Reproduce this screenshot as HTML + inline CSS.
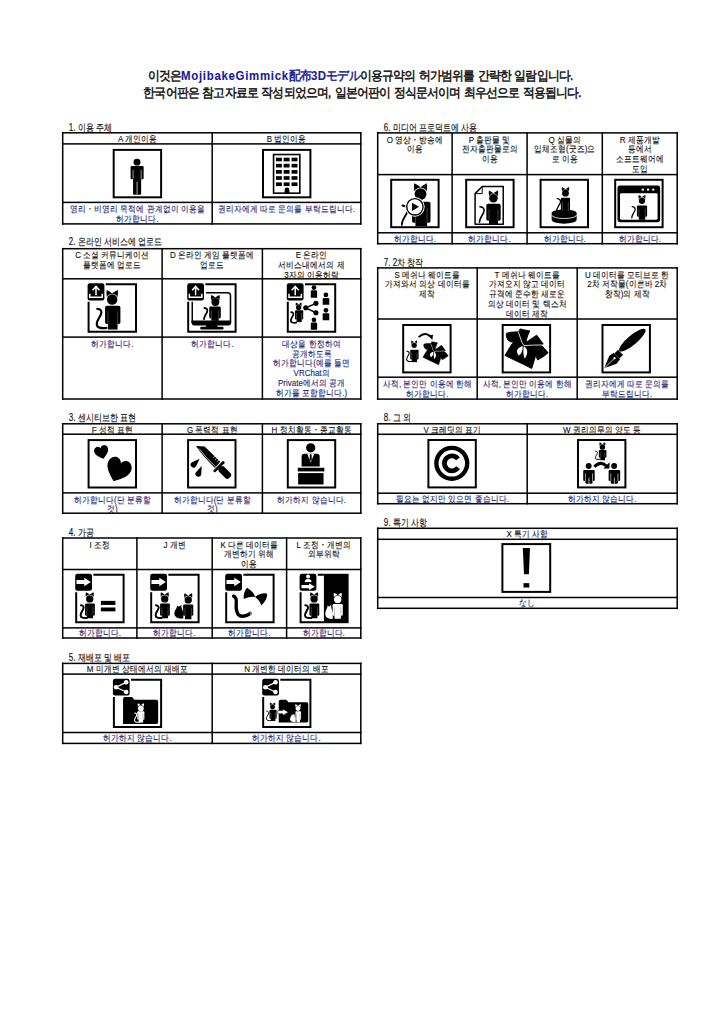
<!DOCTYPE html>
<html><head><meta charset="utf-8"><style>
html,body{margin:0;padding:0;background:#fff;width:725px;height:1024px;overflow:hidden}
body{position:relative;font-family:"Liberation Sans", sans-serif;color:#111}
svg{position:absolute;left:0;top:0}
</style></head><body>
<svg width="725" height="1024" viewBox="0 0 725 1024">
<rect x="61.95" y="132.05" width="299.60" height="1.5" fill="#000"/><rect x="61.95" y="143.15" width="299.60" height="1.5" fill="#000"/><rect x="61.95" y="201.65" width="299.60" height="1.5" fill="#000"/><rect x="61.95" y="223.15" width="299.60" height="1.5" fill="#000"/><rect x="61.95" y="132.05" width="1.5" height="92.60" fill="#000"/><rect x="211.45" y="132.05" width="1.5" height="92.60" fill="#000"/><rect x="360.05" y="132.05" width="1.5" height="92.60" fill="#000"/><g transform="translate(112.70,148.90) scale(0.9880)"><rect x="1" y="1" width="48" height="48" fill="none" stroke="#000" stroke-width="2"/><circle cx="24.6" cy="13.4" r="3.5" fill="#000"/><rect x="18.1" y="17.4" width="13.20" height="13.20" rx="1.25" fill="#000"/><rect x="20.61" y="18.4" width="8.18" height="28.00" rx="1.13" fill="#000"/><path d="M20.61,21.36 V30.60 M28.79,21.36 V30.60" stroke="#fff" stroke-width="0.6"/><path d="M24.70,33.35 V46.40" stroke="#fff" stroke-width="0.7"/></g><g transform="translate(262.00,148.90) scale(0.9880)"><rect x="1" y="1" width="48" height="48" fill="none" stroke="#000" stroke-width="2"/><rect x="11.7" y="5.7" width="26.6" height="39.1" fill="none" stroke="#000" stroke-width="1.6"/><rect x="14.1" y="8.9" width="6.0" height="3.7" fill="#000"/><rect x="14.1" y="15.1" width="6.0" height="3.7" fill="#000"/><rect x="14.1" y="21.4" width="6.0" height="3.7" fill="#000"/><rect x="14.1" y="27.6" width="6.0" height="3.7" fill="#000"/><rect x="14.1" y="33.9" width="6.0" height="3.7" fill="#000"/><rect x="21.9" y="8.9" width="6.0" height="3.7" fill="#000"/><rect x="21.9" y="15.1" width="6.0" height="3.7" fill="#000"/><rect x="21.9" y="21.4" width="6.0" height="3.7" fill="#000"/><rect x="21.9" y="27.6" width="6.0" height="3.7" fill="#000"/><rect x="21.9" y="33.9" width="6.0" height="3.7" fill="#000"/><rect x="29.9" y="8.9" width="6.0" height="3.7" fill="#000"/><rect x="29.9" y="15.1" width="6.0" height="3.7" fill="#000"/><rect x="29.9" y="21.4" width="6.0" height="3.7" fill="#000"/><rect x="29.9" y="27.6" width="6.0" height="3.7" fill="#000"/><rect x="29.9" y="33.9" width="6.0" height="3.7" fill="#000"/><path d="M22.9,45 V41.5 A2.4,2.4 0 0 1 27.7,41.5 V45 Z" fill="#000"/></g><rect x="61.95" y="247.95" width="299.60" height="1.5" fill="#000"/><rect x="61.95" y="278.05" width="299.60" height="1.5" fill="#000"/><rect x="61.95" y="336.35" width="299.60" height="1.5" fill="#000"/><rect x="61.95" y="398.25" width="299.60" height="1.5" fill="#000"/><rect x="61.95" y="247.95" width="1.5" height="151.80" fill="#000"/><rect x="161.35" y="247.95" width="1.5" height="151.80" fill="#000"/><rect x="261.65" y="247.95" width="1.5" height="151.80" fill="#000"/><rect x="360.05" y="247.95" width="1.5" height="151.80" fill="#000"/><g transform="translate(87.60,283.30) scale(0.9880)"><path d="M18.4,1 H49 V49 H1 V18.6" fill="none" stroke="#000" stroke-width="2"/><rect x="0" y="0" width="17" height="17.3" rx="2.2" fill="#000"/><path d="M2.2,10.6 V14.2 H14.8 V10.6" fill="none" stroke="#fff" stroke-width="1.5"/><path d="M8.5,12.2 V3.5 M5,7 L8.5,3.2 L12,7" fill="none" stroke="#fff" stroke-width="1.5"/><path d="M19.49,14.01 Q18.65,10.04 19.28,6.75 Q22.25,7.92 24.90,10.30 Q27.55,7.92 30.52,6.75 Q31.15,10.04 30.31,14.01 Z" fill="#000"/><circle cx="24.90" cy="16.40" r="5.94" fill="#fff"/><circle cx="24.90" cy="16.40" r="5.30" fill="#000"/><rect x="17.70" y="22.80" width="15.50" height="18.40" rx="1.80" fill="#000"/><rect x="20.57" y="23.80" width="9.77" height="23.00" fill="#000"/><path d="M20.57,28.32 V41.20 M30.33,28.32 V41.20" stroke="#fff" stroke-width="0.35" opacity="0.7"/><path d="M9.80,25.80 C13.00,26.00 15.00,28.00 13.50,31.50 C12.00,35.00 9.00,38.00 9.30,41.50 C9.60,45.00 13.00,45.80 19.00,45.20" fill="none" stroke="#000" stroke-width="2.2" stroke-linecap="round"/></g><g transform="translate(187.20,283.30) scale(0.9880)"><path d="M18.4,1 H49 V49 H1 V18.6" fill="none" stroke="#000" stroke-width="2"/><rect x="0" y="0" width="17" height="17.3" rx="2.2" fill="#000"/><path d="M2.2,10.6 V14.2 H14.8 V10.6" fill="none" stroke="#fff" stroke-width="1.5"/><path d="M8.5,12.2 V3.5 M5,7 L8.5,3.2 L12,7" fill="none" stroke="#fff" stroke-width="1.5"/><path d="M5.1,18.8 V40 M19,9.5 H41 Q43.8,9.5 43.8,12.3 V40" fill="none" stroke="#000" stroke-width="1.5"/><path d="M4.4,37.7 H44.5 V40.2 Q44.5,42.7 42,42.7 H6.9 Q4.4,42.7 4.4,40.2 Z" fill="#000"/><rect x="19" y="42" width="11.6" height="2.8" fill="#000"/><rect x="13.2" y="43.9" width="23.6" height="2.9" rx="1.4" fill="#000"/><path d="M24.42,17.20 Q23.78,14.20 24.26,11.72 Q26.50,12.60 28.50,14.40 Q30.50,12.60 32.74,11.72 Q33.22,14.20 32.58,17.20 Z" fill="#000"/><circle cx="28.50" cy="19.00" r="4.48" fill="#fff"/><circle cx="28.50" cy="19.00" r="4.00" fill="#000"/><rect x="22.30" y="23.60" width="11.70" height="12.00" rx="1.40" fill="#000"/><rect x="24.46" y="24.60" width="7.37" height="13.40" fill="#000"/><path d="M24.46,27.20 V35.60 M31.84,27.20 V35.60" stroke="#fff" stroke-width="0.35" opacity="0.7"/><path d="M17.40,25.00 C19.70,25.14 21.14,26.58 20.06,29.10 C18.98,31.62 16.82,33.78 17.04,36.30" fill="none" stroke="#000" stroke-width="1.8" stroke-linecap="round"/></g><g transform="translate(286.80,283.30) scale(0.9880)"><path d="M18.4,1 H49 V49 H1 V18.6" fill="none" stroke="#000" stroke-width="2"/><rect x="0" y="0" width="17" height="17.3" rx="2.2" fill="#000"/><path d="M2.2,10.6 V14.2 H14.8 V10.6" fill="none" stroke="#fff" stroke-width="1.5"/><path d="M8.5,12.2 V3.5 M5,7 L8.5,3.2 L12,7" fill="none" stroke="#fff" stroke-width="1.5"/><path d="M9.25,23.18 Q8.81,21.16 9.14,19.49 Q10.65,20.08 12.00,21.29 Q13.35,20.08 14.86,19.49 Q15.19,21.16 14.75,23.18 Z" fill="#000"/><circle cx="12.00" cy="24.40" r="3.02" fill="#fff"/><circle cx="12.00" cy="24.40" r="2.70" fill="#000"/><rect x="8.30" y="27.20" width="8.30" height="9.44" rx="1.00" fill="#000"/><rect x="9.84" y="28.20" width="5.23" height="11.10" fill="#000"/><path d="M9.84,30.03 V36.64 M15.06,30.03 V36.64" stroke="#fff" stroke-width="0.35" opacity="0.7"/><path d="M4.40,29.20 C6.16,29.31 7.26,30.41 6.44,32.34 C5.61,34.26 3.96,35.91 4.12,37.84 C4.29,39.76 6.16,40.20 9.46,39.87" fill="none" stroke="#000" stroke-width="1.8" stroke-linecap="round"/><path d="M29.5,20.3 L19.2,24.8 L29.5,29.8" fill="none" stroke="#000" stroke-width="1.5"/><circle cx="19.2" cy="24.8" r="2.6" fill="#000"/><circle cx="29.5" cy="20.3" r="2.6" fill="#000"/><circle cx="29.5" cy="29.8" r="2.6" fill="#000"/><circle cx="27.5" cy="4.3" r="2.4" fill="#000"/><path d="M24.3,14.6 V8.2 Q24.3,7.0 25.5,7.0 H29.5 Q30.7,7.0 30.7,8.2 V14.6 Z" fill="#000"/><circle cx="39.6" cy="11.8" r="2.4" fill="#000"/><path d="M36.3,21.6 V16.1 Q36.3,14.9 37.5,14.9 H41.8 Q43.0,14.9 43.0,16.1 V21.6 Z" fill="#000"/><circle cx="39.6" cy="27.4" r="2.4" fill="#000"/><path d="M36.3,37.4 V31.4 Q36.3,30.2 37.5,30.2 H41.8 Q43.0,30.2 43.0,31.4 V37.4 Z" fill="#000"/><circle cx="27.5" cy="37.0" r="2.4" fill="#000"/><path d="M24.3,46.9 V40.900000000000006 Q24.3,39.7 25.5,39.7 H29.5 Q30.7,39.7 30.7,40.900000000000006 V46.9 Z" fill="#000"/></g><rect x="61.95" y="423.05" width="299.60" height="1.5" fill="#000"/><rect x="61.95" y="433.45" width="299.60" height="1.5" fill="#000"/><rect x="61.95" y="492.15" width="299.60" height="1.5" fill="#000"/><rect x="61.95" y="512.45" width="299.60" height="1.5" fill="#000"/><rect x="61.95" y="423.05" width="1.5" height="90.90" fill="#000"/><rect x="161.35" y="423.05" width="1.5" height="90.90" fill="#000"/><rect x="261.65" y="423.05" width="1.5" height="90.90" fill="#000"/><rect x="360.05" y="423.05" width="1.5" height="90.90" fill="#000"/><g transform="translate(87.60,439.10) scale(0.9880)"><rect x="1" y="1" width="48" height="48" fill="none" stroke="#000" stroke-width="2"/><path d="M0,1 C-0.35,0.68 -1,0.25 -1,-0.35 C-1,-0.75 -0.72,-1 -0.48,-1 C-0.22,-1 -0.05,-0.82 0,-0.62 C0.05,-0.82 0.22,-1 0.48,-1 C0.72,-1 1,-0.75 1,-0.35 C1,0.25 0.35,0.68 0,1 Z" transform="translate(14.3,13.5) rotate(-15) scale(7.2,6.7)" fill="#000"/><path d="M0,1 C-0.35,0.68 -1,0.25 -1,-0.35 C-1,-0.75 -0.72,-1 -0.48,-1 C-0.22,-1 -0.05,-0.82 0,-0.62 C0.05,-0.82 0.22,-1 0.48,-1 C0.72,-1 1,-0.75 1,-0.35 C1,0.25 0.35,0.68 0,1 Z" transform="translate(30.8,31.6) rotate(22) scale(12.5,12.0)" fill="#000"/></g><g transform="translate(187.10,439.10) scale(0.9880)"><rect x="1" y="1" width="48" height="48" fill="none" stroke="#000" stroke-width="2"/><path d="M9,7.1 L17.7,7.5 L33.6,22.9 L28.1,29.2 Q16,17.5 9,7.1 Z" fill="#000"/><path d="M12.2,9.6 Q19,19 29,28.3" fill="none" stroke="#fff" stroke-width="0.75"/><path d="M27.9,17.3 L26.3,18.9 M29.9,19.3 L28.3,20.9 M31.9,21.3 L30.3,22.9" stroke="#fff" stroke-width="0.8"/><rect x="-7.3" y="-1.4" width="14.6" height="2.8" rx="0.9" transform="translate(32.3,27.9) rotate(-45)" fill="#000"/><rect x="1.2" y="-3.6" width="14.2" height="7.2" rx="2.8" transform="translate(32.3,27.9) rotate(45)" fill="#000"/><path d="M12.70,19.80 L8.82,27.92 A3.0,3.0 0 1 1 4.58,23.68 Z" fill="#000"/><path d="M14.80,27.20 L14.26,36.17 A3.0,3.0 0 1 1 8.74,33.83 Z" fill="#000"/></g><g transform="translate(286.80,439.10) scale(0.9880)"><rect x="1" y="1" width="48" height="48" fill="none" stroke="#000" stroke-width="2"/><circle cx="24.2" cy="8.8" r="4.7" fill="#000"/><path d="M15,27.7 V17.8 Q15,14.9 18,14.9 H30.3 Q33.3,14.9 33.3,17.8 V27.7 Z" fill="#000"/><path d="M20.6,14.9 L24.2,23.6 L27.8,14.9 Z" fill="#fff"/><path d="M23.4,15.3 H25 L25.3,20.5 L24.2,22.3 L23.1,20.5 Z" fill="#000"/><rect x="11.1" y="29" width="26.9" height="3.7" fill="#000"/><rect x="11.5" y="34.4" width="25.7" height="11.5" fill="#000"/></g><rect x="61.95" y="537.25" width="299.60" height="1.5" fill="#000"/><rect x="61.95" y="568.75" width="299.60" height="1.5" fill="#000"/><rect x="61.95" y="627.15" width="299.60" height="1.5" fill="#000"/><rect x="61.95" y="637.25" width="299.60" height="1.5" fill="#000"/><rect x="61.95" y="537.25" width="1.5" height="101.50" fill="#000"/><rect x="136.15" y="537.25" width="1.5" height="101.50" fill="#000"/><rect x="211.45" y="537.25" width="1.5" height="101.50" fill="#000"/><rect x="285.85" y="537.25" width="1.5" height="101.50" fill="#000"/><rect x="360.05" y="537.25" width="1.5" height="101.50" fill="#000"/><g transform="translate(75.20,573.80) scale(0.9880)"><path d="M18.4,1 H49 V49 H1 V18.6" fill="none" stroke="#000" stroke-width="2"/><rect x="0" y="0" width="17" height="17.1" rx="2.2" fill="#000"/><path d="M1.3,6.2 H9.2 V4 L15.8,8.3 L9.2,12.5 V10.3 H1.3 Z" fill="#fff"/><path d="M10.93,23.73 Q10.33,20.96 10.78,18.67 Q12.85,19.48 14.70,21.14 Q16.55,19.48 18.62,18.67 Q19.07,20.96 18.47,23.73 Z" fill="#000"/><circle cx="14.70" cy="25.40" r="4.14" fill="#fff"/><circle cx="14.70" cy="25.40" r="3.70" fill="#000"/><rect x="10.00" y="30.00" width="9.90" height="12.50" rx="1.19" fill="#000"/><rect x="11.83" y="31.00" width="6.24" height="14.00" fill="#000"/><path d="M11.83,33.75 V42.50 M18.07,33.75 V42.50" stroke="#fff" stroke-width="0.35" opacity="0.7"/><path d="M5.80,31.80 C7.91,31.93 9.23,33.25 8.24,35.56 C7.25,37.87 5.27,39.85 5.47,42.16 C5.67,44.47 7.91,45.00 11.87,44.60" fill="none" stroke="#000" stroke-width="2.0" stroke-linecap="round"/><rect x="26" y="27.4" width="14.7" height="4.1" fill="#000"/><rect x="26" y="34.1" width="14.7" height="3.9" fill="#000"/></g><g transform="translate(150.20,573.80) scale(0.9880)"><path d="M18.4,1 H49 V49 H1 V18.6" fill="none" stroke="#000" stroke-width="2"/><rect x="0" y="0" width="17" height="17.1" rx="2.2" fill="#000"/><path d="M1.3,6.2 H9.2 V4 L15.8,8.3 L9.2,12.5 V10.3 H1.3 Z" fill="#fff"/><path d="M10.93,23.73 Q10.33,20.96 10.78,18.67 Q12.85,19.48 14.70,21.14 Q16.55,19.48 18.62,18.67 Q19.07,20.96 18.47,23.73 Z" fill="#000"/><circle cx="14.70" cy="25.40" r="4.14" fill="#fff"/><circle cx="14.70" cy="25.40" r="3.70" fill="#000"/><rect x="10.00" y="30.00" width="9.90" height="12.50" rx="1.19" fill="#000"/><rect x="11.83" y="31.00" width="6.24" height="14.00" fill="#000"/><path d="M11.83,33.75 V42.50 M18.07,33.75 V42.50" stroke="#fff" stroke-width="0.35" opacity="0.7"/><path d="M5.80,31.80 C7.91,31.93 9.23,33.25 8.24,35.56 C7.25,37.87 5.27,39.85 5.47,42.16 C5.67,44.47 7.91,45.00 11.87,44.60" fill="none" stroke="#000" stroke-width="2.0" stroke-linecap="round"/><path d="M34.73,24.73 Q34.13,21.96 34.58,19.67 Q36.65,20.48 38.50,22.14 Q40.35,20.48 42.42,19.67 Q42.87,21.96 42.27,24.73 Z" fill="#000"/><circle cx="38.50" cy="26.40" r="4.14" fill="#fff"/><circle cx="38.50" cy="26.40" r="3.70" fill="#000"/><rect x="33.30" y="31.00" width="10.30" height="11.50" rx="1.24" fill="#000"/><rect x="35.21" y="32.00" width="6.49" height="14.00" fill="#000"/><path d="M35.21,34.45 V42.50 M41.69,34.45 V42.50" stroke="#fff" stroke-width="0.35" opacity="0.7"/><path d="M33.50,45.20 C28.75,45.89 24.00,43.82 24.48,39.68 C24.95,36.23 26.85,35.54 27.32,32.09 C29.23,34.16 30.65,32.09 31.60,31.40 C31.12,35.54 33.50,37.61 33.50,39.68 Z" fill="#000"/></g><g transform="translate(225.20,573.80) scale(0.9880)"><path d="M18.4,1 H49 V49 H1 V18.6" fill="none" stroke="#000" stroke-width="2"/><rect x="0" y="0" width="17" height="17.1" rx="2.2" fill="#000"/><path d="M1.3,6.2 H9.2 V4 L15.8,8.3 L9.2,12.5 V10.3 H1.3 Z" fill="#fff"/><path d="M22.0,14.0 Q18.0,19 18.8,25.6 Q24.5,22.8 30.6,23.4 Q27.8,17 22.0,14.0 Z" fill="#000"/><path d="M30.2,23.4 Q35.5,19.2 41.3,19.7 Q43,20.5 42.4,22.4 Q41,28 36.5,32.0 Q35,26.5 30.2,23.4 Z" fill="#000"/><path d="M8.5,22.6 Q11.8,24 11.2,30 Q10.6,37 13,41 Q17,45.5 25.5,40" fill="none" stroke="#000" stroke-width="3.4" stroke-linecap="round"/><path d="M25.4,38.2 V41.8 M26.8,37.6 V41.2" stroke="#fff" stroke-width="0.6"/></g><g transform="translate(299.60,573.80) scale(0.9880)"><rect x="0" y="0" width="17" height="17.1" rx="2.2" fill="#000"/><circle cx="8.6" cy="2.8" r="2.0" fill="#fff"/><path d="M5.2,8.2 Q5.2,5.2 8.6,5.2 Q12,5.2 12,8.2 Z" fill="#fff"/><path d="M1.9,11.4 H9.6 V9.6 L15.3,13 L9.6,16.4 V14.6 H1.9 Z" fill="#fff"/><path d="M18.4,1 H24.6 M1,18.6 V49 H24.6" fill="none" stroke="#000" stroke-width="2"/><rect x="24.6" y="0" width="25" height="50" fill="#000"/><path d="M10.93,23.73 Q10.33,20.96 10.78,18.67 Q12.85,19.48 14.70,21.14 Q16.55,19.48 18.62,18.67 Q19.07,20.96 18.47,23.73 Z" fill="#000"/><circle cx="14.70" cy="25.40" r="4.14" fill="#fff"/><circle cx="14.70" cy="25.40" r="3.70" fill="#000"/><rect x="10.00" y="30.00" width="9.90" height="12.50" rx="1.19" fill="#000"/><rect x="11.83" y="31.00" width="6.24" height="14.00" fill="#000"/><path d="M11.83,33.75 V42.50 M18.07,33.75 V42.50" stroke="#fff" stroke-width="0.35" opacity="0.7"/><path d="M5.80,31.80 C7.91,31.93 9.23,33.25 8.24,35.56 C7.25,37.87 5.27,39.85 5.47,42.16 C5.67,44.47 7.91,45.00 11.87,44.60" fill="none" stroke="#000" stroke-width="2.0" stroke-linecap="round"/><path d="M34.83,24.23 Q34.23,21.46 34.68,19.17 Q36.75,19.98 38.60,21.64 Q40.45,19.98 42.52,19.17 Q42.97,21.46 42.37,24.23 Z" fill="#fff"/><circle cx="38.60" cy="25.90" r="4.14" fill="#000"/><circle cx="38.60" cy="25.90" r="3.70" fill="#fff"/><rect x="33.40" y="30.50" width="10.30" height="12.00" rx="1.24" fill="#fff"/><rect x="35.31" y="31.50" width="6.49" height="14.00" fill="#fff"/><path d="M35.31,34.10 V42.50 M41.79,34.10 V42.50" stroke="#000" stroke-width="0.35" opacity="0.7"/><path d="M33.60,45.50 C29.60,46.20 25.60,44.09 26.00,39.86 C26.40,36.34 28.00,35.63 28.40,32.10 C30.00,34.22 31.20,32.10 32.00,31.40 C31.60,35.63 33.60,37.74 33.60,39.86 Z" fill="#fff"/></g><rect x="61.95" y="662.65" width="299.60" height="1.5" fill="#000"/><rect x="61.95" y="673.35" width="299.60" height="1.5" fill="#000"/><rect x="61.95" y="731.75" width="299.60" height="1.5" fill="#000"/><rect x="61.95" y="742.65" width="299.60" height="1.5" fill="#000"/><rect x="61.95" y="662.65" width="1.5" height="81.50" fill="#000"/><rect x="211.45" y="662.65" width="1.5" height="81.50" fill="#000"/><rect x="360.05" y="662.65" width="1.5" height="81.50" fill="#000"/><g transform="translate(112.90,678.80) scale(0.9840)"><path d="M18.4,1 H49 V49 H1 V18.6" fill="none" stroke="#000" stroke-width="2"/><rect x="0" y="0" width="17" height="17" rx="2.2" fill="#000"/><path d="M13.5,3.6 L3.2,8.6 L13.5,13.4" fill="none" stroke="#fff" stroke-width="1.3"/><circle cx="13.5" cy="3.6" r="2.3" fill="#fff"/><circle cx="3.2" cy="8.6" r="2.3" fill="#fff"/><circle cx="13.5" cy="13.4" r="2.3" fill="#fff"/><path d="M10.3,46 V20.6 Q10.3,18.6 12.3,18.6 H19.5 L21.8,21.2 H44 Q46,21.2 46,23.2 V44 Q46,46 44,46 Z" fill="#000"/><path d="M25.44,28.89 Q24.98,26.72 25.33,24.92 Q26.95,25.56 28.40,26.86 Q29.85,25.56 31.47,24.92 Q31.82,26.72 31.36,28.89 Z" fill="#fff"/><circle cx="28.40" cy="30.20" r="3.25" fill="#000"/><circle cx="28.40" cy="30.20" r="2.90" fill="#fff"/><rect x="24.80" y="33.10" width="7.20" height="8.40" rx="0.86" fill="#fff"/><rect x="26.13" y="34.10" width="4.54" height="10.40" fill="#fff"/><path d="M26.13,35.62 V41.50 M30.67,35.62 V41.50" stroke="#000" stroke-width="0.35" opacity="0.7"/><path d="M22.20,34.80 C23.74,34.90 24.70,35.86 23.98,37.54 C23.26,39.22 21.82,40.66 21.96,42.34 C22.10,44.02 23.74,44.40 26.62,44.11" fill="none" stroke="#fff" stroke-width="1.1" stroke-linecap="round"/></g><g transform="translate(262.20,678.80) scale(0.9840)"><path d="M18.4,1 H49 V49 H1 V18.6" fill="none" stroke="#000" stroke-width="2"/><rect x="0" y="0" width="17" height="17" rx="2.2" fill="#000"/><path d="M13.5,3.6 L3.2,8.6 L13.5,13.4" fill="none" stroke="#fff" stroke-width="1.3"/><circle cx="13.5" cy="3.6" r="2.3" fill="#fff"/><circle cx="3.2" cy="8.6" r="2.3" fill="#fff"/><circle cx="13.5" cy="13.4" r="2.3" fill="#fff"/><path d="M16.8,44.5 V23 Q16.8,21.2 18.6,21.2 H24.5 L26.8,23.8 H45 Q46.8,23.8 46.8,25.6 V42.7 Q46.8,44.5 45,44.5 Z" fill="#000"/><path d="M7.95,27.48 Q7.55,25.60 7.85,24.05 Q9.25,24.60 10.50,25.73 Q11.75,24.60 13.15,24.05 Q13.45,25.60 13.05,27.48 Z" fill="#000"/><circle cx="10.50" cy="28.60" r="2.80" fill="#fff"/><circle cx="10.50" cy="28.60" r="2.50" fill="#000"/><rect x="7.40" y="31.50" width="7.30" height="9.00" rx="0.88" fill="#000"/><rect x="8.75" y="32.50" width="4.60" height="10.40" fill="#000"/><path d="M8.75,34.20 V40.50 M13.35,34.20 V40.50" stroke="#fff" stroke-width="0.35" opacity="0.7"/><path d="M4.50,32.80 C6.10,32.90 7.10,33.90 6.35,35.65 C5.60,37.40 4.10,38.90 4.25,40.65 C4.40,42.40 6.10,42.80 9.10,42.50" fill="none" stroke="#000" stroke-width="1.0" stroke-linecap="round"/><path d="M15.7,32.3 H21 V30.6 L26.6,33.9 L21,37.2 V35.5 H15.7 Z" fill="#fff" stroke="#000" stroke-width="0.5"/><path d="M33.85,29.07 Q33.45,27.20 33.75,25.65 Q35.15,26.20 36.40,27.32 Q37.65,26.20 39.05,25.65 Q39.35,27.20 38.95,29.07 Z" fill="#fff"/><circle cx="36.40" cy="30.20" r="2.80" fill="#000"/><circle cx="36.40" cy="30.20" r="2.50" fill="#fff"/><rect x="33.80" y="33.00" width="5.70" height="8.50" rx="0.68" fill="#fff"/><rect x="34.85" y="34.00" width="3.59" height="10.00" fill="#fff"/><path d="M34.85,35.55 V41.50 M38.45,35.55 V41.50" stroke="#000" stroke-width="0.35" opacity="0.7"/><path d="M34.00,44.00 C31.00,44.42 28.00,43.15 28.30,40.60 C28.60,38.48 29.80,38.05 30.10,35.92 C31.30,37.20 32.20,35.92 32.80,35.50 C32.50,38.05 34.00,39.33 34.00,40.60 Z" fill="#fff"/></g><rect x="376.95" y="132.15" width="301.00" height="1.5" fill="#000"/><rect x="376.95" y="173.85" width="301.00" height="1.5" fill="#000"/><rect x="376.95" y="232.05" width="301.00" height="1.5" fill="#000"/><rect x="376.95" y="242.95" width="301.00" height="1.5" fill="#000"/><rect x="376.95" y="132.15" width="1.5" height="112.30" fill="#000"/><rect x="451.35" y="132.15" width="1.5" height="112.30" fill="#000"/><rect x="526.35" y="132.15" width="1.5" height="112.30" fill="#000"/><rect x="601.55" y="132.15" width="1.5" height="112.30" fill="#000"/><rect x="676.45" y="132.15" width="1.5" height="112.30" fill="#000"/><g transform="translate(390.20,178.80) scale(0.9880)"><rect x="1" y="1" width="48" height="48" fill="none" stroke="#000" stroke-width="2"/><path d="M24.58,12.80 Q23.62,8.30 24.34,4.58 Q27.70,5.90 30.70,8.60 Q33.70,5.90 37.06,4.58 Q37.78,8.30 36.82,12.80 Z" fill="#000"/><circle cx="30.70" cy="15.50" r="6.72" fill="#fff"/><circle cx="30.70" cy="15.50" r="6.00" fill="#000"/><rect x="22.10" y="23.30" width="18.70" height="21.20" rx="1.80" fill="#000"/><rect x="25.56" y="24.30" width="11.78" height="23.70" fill="#000"/><path d="M25.56,29.66 V44.50 M37.34,29.66 V44.50" stroke="#fff" stroke-width="0.35" opacity="0.7"/><path d="M12.40,27.00 C16.40,27.25 18.90,29.75 17.02,34.12 C15.15,38.50 11.40,42.25 11.78,46.62" fill="none" stroke="#000" stroke-width="1.9" stroke-linecap="round"/><circle cx="25" cy="28.4" r="9.9" fill="#fff"/><circle cx="25" cy="28.4" r="8.3" fill="none" stroke="#000" stroke-width="1.4"/><circle cx="13.6" cy="27.3" r="1.1" fill="#000"/><path d="M22,24.3 L22,32.5 L29.2,28.4 Z" fill="#000"/></g><g transform="translate(465.20,178.80) scale(0.9880)"><rect x="1" y="1" width="48" height="48" fill="none" stroke="#000" stroke-width="2"/><path d="M17.2,7.8 H38.5 V46 H10 V15 Z" fill="none" stroke="#000" stroke-width="1.5" stroke-linejoin="round"/><path d="M10,15 H17.2 V7.8" fill="none" stroke="#000" stroke-width="1"/><path d="M24.21,17.77 Q23.53,14.54 24.04,11.87 Q26.45,12.82 28.60,14.75 Q30.75,12.82 33.16,11.87 Q33.67,14.54 32.99,17.77 Z" fill="#000"/><circle cx="28.60" cy="19.70" r="4.82" fill="#fff"/><circle cx="28.60" cy="19.70" r="4.30" fill="#000"/><rect x="21.40" y="25.30" width="14.50" height="17.20" rx="1.74" fill="#000"/><rect x="24.08" y="26.30" width="9.13" height="19.70" fill="#000"/><path d="M24.08,30.46 V42.50 M33.22,30.46 V42.50" stroke="#fff" stroke-width="0.35" opacity="0.7"/><path d="M15.00,28.30 C18.20,28.50 20.20,30.50 18.70,34.00 C17.20,37.50 14.20,40.50 14.50,44.00" fill="none" stroke="#000" stroke-width="1.6" stroke-linecap="round"/></g><g transform="translate(539.60,178.80) scale(0.9880)"><rect x="1" y="1" width="48" height="48" fill="none" stroke="#000" stroke-width="2"/><path d="M12.2,35 V41.5 A12.65,4 0 0 0 37.5,41.5 V35 Z" fill="#000"/><ellipse cx="24.85" cy="34.6" rx="12.65" ry="3.6" fill="#000"/><path d="M12.2,36.6 A12.65,3.6 0 0 0 37.5,36.6" fill="none" stroke="#fff" stroke-width="0.8"/><path d="M22.73,13.07 Q22.19,10.52 22.60,8.41 Q24.50,9.16 26.20,10.69 Q27.90,9.16 29.80,8.41 Q30.21,10.52 29.67,13.07 Z" fill="#000"/><circle cx="26.20" cy="14.60" r="3.81" fill="#fff"/><circle cx="26.20" cy="14.60" r="3.40" fill="#000"/><rect x="21.50" y="19.10" width="9.30" height="13.40" rx="1.12" fill="#000"/><rect x="23.22" y="20.10" width="5.86" height="14.90" fill="#000"/><path d="M23.22,23.12 V32.50 M29.08,23.12 V32.50" stroke="#fff" stroke-width="0.35" opacity="0.7"/><path d="M17.70,20.00 C20.32,20.16 21.96,21.80 20.73,24.67 C19.50,27.54 17.04,30.00 17.29,32.87" fill="none" stroke="#000" stroke-width="1.3" stroke-linecap="round"/></g><g transform="translate(614.20,178.80) scale(0.9880)"><rect x="1" y="1" width="48" height="48" fill="none" stroke="#000" stroke-width="2"/><rect x="3.3" y="6.7" width="43.2" height="37.3" rx="2.5" fill="#000"/><rect x="5.9" y="14.5" width="38" height="27" rx="1.5" fill="#fff"/><circle cx="29" cy="10.9" r="1.2" fill="#fff"/><circle cx="34.3" cy="10.9" r="1.2" fill="#fff"/><circle cx="39.5" cy="10.9" r="1.2" fill="#fff"/><path d="M24.84,20.86 Q24.32,18.46 24.71,16.48 Q26.50,17.18 28.10,18.62 Q29.70,17.18 31.49,16.48 Q31.88,18.46 31.36,20.86 Z" fill="#000"/><circle cx="28.10" cy="22.30" r="3.58" fill="#fff"/><circle cx="28.10" cy="22.30" r="3.20" fill="#000"/><rect x="23.00" y="26.90" width="10.30" height="11.60" rx="1.24" fill="#000"/><rect x="24.91" y="27.90" width="6.49" height="13.60" fill="#000"/><path d="M24.91,30.38 V38.50 M31.39,30.38 V38.50" stroke="#fff" stroke-width="0.35" opacity="0.7"/><path d="M18.20,28.20 C20.50,28.34 21.94,29.78 20.86,32.30 C19.78,34.82 17.62,36.98 17.84,39.50" fill="none" stroke="#000" stroke-width="1.3" stroke-linecap="round"/></g><rect x="376.95" y="267.15" width="301.00" height="1.5" fill="#000"/><rect x="376.95" y="318.25" width="301.00" height="1.5" fill="#000"/><rect x="376.95" y="376.45" width="301.00" height="1.5" fill="#000"/><rect x="376.95" y="398.35" width="301.00" height="1.5" fill="#000"/><rect x="376.95" y="267.15" width="1.5" height="132.70" fill="#000"/><rect x="476.45" y="267.15" width="1.5" height="132.70" fill="#000"/><rect x="576.45" y="267.15" width="1.5" height="132.70" fill="#000"/><rect x="676.45" y="267.15" width="1.5" height="132.70" fill="#000"/><g transform="translate(402.20,324.00) scale(0.9880)"><rect x="1" y="1" width="48" height="48" fill="none" stroke="#000" stroke-width="2"/><path d="M9.35,20.39 Q8.91,18.36 9.24,16.69 Q10.75,17.28 12.10,18.50 Q13.45,17.28 14.96,16.69 Q15.29,18.36 14.85,20.39 Z" fill="#000"/><circle cx="12.10" cy="21.60" r="3.02" fill="#fff"/><circle cx="12.10" cy="21.60" r="2.70" fill="#000"/><rect x="8.10" y="26.00" width="8.50" height="10.00" rx="1.02" fill="#000"/><rect x="9.67" y="27.00" width="5.36" height="11.60" fill="#000"/><path d="M9.67,29.00 V36.00 M15.03,29.00 V36.00" stroke="#fff" stroke-width="0.35" opacity="0.7"/><path d="M4.80,27.60 C6.50,27.71 7.56,28.77 6.76,30.62 C5.97,32.48 4.38,34.07 4.54,35.92 C4.69,37.78 6.50,38.20 9.68,37.88" fill="none" stroke="#000" stroke-width="1.1" stroke-linecap="round"/><path d="M16.6,13.3 Q23,7.5 28.6,12.5" fill="none" stroke="#000" stroke-width="2"/><path d="M26.3,12.0 L31.2,11.0 L30.6,16.2 Z" fill="#000"/><g transform="translate(19.08,14.99) scale(0.585)"><path d="M4.94,9.28 L9.25,8.29 L15.54,7.96 L17.19,8.29 L18.52,4.98 L23.15,5.97 L28.45,6.97 L26.8,10.61 L25.14,15.25 L24.81,18.56 L30.44,14.58 L35.41,11.27 L38.39,15.25 L42.03,20.21 L40.37,21.87 L43.68,25.18 L46.99,29.15 L43.02,32.46 L36.4,36.44 L34.41,31.8 L30.44,45.05 L21.17,40.41 L11.23,35.77 L3.29,31.8 L5.27,28.49 L10.57,19.88 L12.23,18.56 L8.58,17.89 L5.94,15.91 L4.61,11.93 Z" fill="#000" stroke="#000" stroke-width="0.9" stroke-linejoin="round"/><path d="M16.86,8.29 L20.5,18.56 L22.49,21.87 Q32,21.2 41.7,21.2" fill="none" stroke="#fff" stroke-width="0.85"/><path d="M21.4,22.6 C17.5,23.2 15,26 15.6,28.5 C16,30.5 17,31.8 17.5,31.8 C19.5,30.5 21,28.5 21.4,22.6 Z" fill="#fff"/><path d="M22.3,22.6 C25,24 26.5,27 25.6,30 C25,32.5 23.8,34.8 23.2,34.8 C21.8,32 21.6,27 22.3,22.6 Z" fill="#fff"/></g></g><g transform="translate(501.70,324.00) scale(0.9880)"><rect x="1" y="1" width="48" height="48" fill="none" stroke="#000" stroke-width="2"/><path d="M4.94,9.28 L9.25,8.29 L15.54,7.96 L17.19,8.29 L18.52,4.98 L23.15,5.97 L28.45,6.97 L26.8,10.61 L25.14,15.25 L24.81,18.56 L30.44,14.58 L35.41,11.27 L38.39,15.25 L42.03,20.21 L40.37,21.87 L43.68,25.18 L46.99,29.15 L43.02,32.46 L36.4,36.44 L34.41,31.8 L30.44,45.05 L21.17,40.41 L11.23,35.77 L3.29,31.8 L5.27,28.49 L10.57,19.88 L12.23,18.56 L8.58,17.89 L5.94,15.91 L4.61,11.93 Z" fill="#000" stroke="#000" stroke-width="0.9" stroke-linejoin="round"/><path d="M16.86,8.29 L20.5,18.56 L22.49,21.87 Q32,21.2 41.7,21.2" fill="none" stroke="#fff" stroke-width="0.85"/><path d="M21.4,22.6 C17.5,23.2 15,26 15.6,28.5 C16,30.5 17,31.8 17.5,31.8 C19.5,30.5 21,28.5 21.4,22.6 Z" fill="#fff"/><path d="M22.3,22.6 C25,24 26.5,27 25.6,30 C25,32.5 23.8,34.8 23.2,34.8 C21.8,32 21.6,27 22.3,22.6 Z" fill="#fff"/></g><g transform="translate(601.50,324.00) scale(0.9880)"><rect x="1" y="1" width="48" height="48" fill="none" stroke="#000" stroke-width="2"/><ellipse cx="31.2" cy="16.3" rx="17" ry="4.8" transform="rotate(-40 31.2 16.3)" fill="#000"/><g transform="translate(17.6,30.4) rotate(-44)"><rect x="-2.8" y="-3.6" width="5.2" height="7.2" fill="#000"/><path d="M-2.8,-4.6 L-8.5,-5.4 Q-14,-3 -20.5,0 Q-14,3 -8.5,5.4 L-2.8,4.6 Z" fill="#000"/><path d="M-6,0 L-20.8,0" stroke="#fff" stroke-width="0.75"/><circle cx="-6" cy="0" r="1.1" fill="#fff"/></g></g><rect x="376.95" y="423.05" width="301.00" height="1.5" fill="#000"/><rect x="376.95" y="433.55" width="301.00" height="1.5" fill="#000"/><rect x="376.95" y="492.45" width="301.00" height="1.5" fill="#000"/><rect x="376.95" y="502.95" width="301.00" height="1.5" fill="#000"/><rect x="376.95" y="423.05" width="1.5" height="81.40" fill="#000"/><rect x="526.45" y="423.05" width="1.5" height="81.40" fill="#000"/><rect x="676.45" y="423.05" width="1.5" height="81.40" fill="#000"/><g transform="translate(427.40,439.00) scale(0.9880)"><rect x="1" y="1" width="48" height="48" fill="none" stroke="#000" stroke-width="2"/><circle cx="24.7" cy="24.6" r="15.6" fill="none" stroke="#000" stroke-width="4.4"/><path d="M31.0,20.2 A7.6,7.6 0 1 0 31.0,29.0" fill="none" stroke="#000" stroke-width="4.8"/></g><g transform="translate(577.00,439.00) scale(0.9880)"><rect x="1" y="1" width="48" height="48" fill="none" stroke="#000" stroke-width="2"/><path d="M22.95,7.09 Q22.51,5.06 22.84,3.39 Q24.35,3.98 25.70,5.20 Q27.05,3.98 28.56,3.39 Q28.89,5.06 28.45,7.09 Z" fill="#000"/><circle cx="25.70" cy="8.30" r="3.02" fill="#fff"/><circle cx="25.70" cy="8.30" r="2.70" fill="#000"/><rect x="22.10" y="11.20" width="7.70" height="7.80" rx="0.92" fill="#000"/><rect x="23.52" y="12.20" width="4.85" height="9.30" fill="#000"/><path d="M23.52,13.54 V19.00 M28.38,13.54 V19.00" stroke="#fff" stroke-width="0.35" opacity="0.7"/><path d="M18.90,12.30 C20.28,12.39 21.14,13.25 20.49,14.75 C19.85,16.26 18.56,17.55 18.68,19.05 C18.81,20.56 20.28,20.90 22.86,20.64" fill="none" stroke="#000" stroke-width="1.0" stroke-linecap="round"/><path d="M17.6,28.2 Q23.5,21.8 29.8,27.2" fill="none" stroke="#000" stroke-width="3.0"/><path d="M33.0,23.6 L32.8,29.9 L26.6,29.9 Z" fill="#000"/><circle cx="11.8" cy="27.4" r="3.0" fill="#000"/><rect x="6.3" y="31.4" width="11.60" height="11.20" rx="1.10" fill="#000"/><rect x="8.50" y="32.4" width="7.19" height="12.90" rx="0.99" fill="#000"/><path d="M8.50,34.76 V42.60 M15.70,34.76 V42.60" stroke="#fff" stroke-width="0.6"/><path d="M12.10,39.05 V45.30" stroke="#fff" stroke-width="0.7"/><circle cx="37.6" cy="27.4" r="3.0" fill="#000"/><rect x="32.0" y="31.4" width="11.70" height="11.20" rx="1.11" fill="#000"/><rect x="34.22" y="32.4" width="7.25" height="12.90" rx="1.00" fill="#000"/><path d="M34.22,34.76 V42.60 M41.48,34.76 V42.60" stroke="#fff" stroke-width="0.6"/><path d="M37.85,39.05 V45.30" stroke="#fff" stroke-width="0.7"/></g><rect x="376.95" y="527.55" width="301.00" height="1.5" fill="#000"/><rect x="376.95" y="538.55" width="301.00" height="1.5" fill="#000"/><rect x="376.95" y="596.75" width="301.00" height="1.5" fill="#000"/><rect x="376.95" y="607.55" width="301.00" height="1.5" fill="#000"/><rect x="376.95" y="527.55" width="1.5" height="81.50" fill="#000"/><rect x="676.45" y="527.55" width="1.5" height="81.50" fill="#000"/><g transform="translate(501.40,543.10) scale(0.9960)"><rect x="1" y="1" width="48" height="48" fill="none" stroke="#000" stroke-width="2"/><path d="M21.5,4.8 H28.7 L27.6,31.2 H22.7 Z" fill="#000"/><rect x="22.2" y="40.2" width="5.8" height="4.4" fill="#000"/></g>
</svg>
<div style="position:absolute;width:725px;text-align:center;font-size:11.45px;line-height:17px;font-weight:normal;color:#111;-webkit-text-stroke:0.45px #111;transform:scaleY(1.1);transform-origin:0 0;white-space:nowrap;left:-2px;top:67px;letter-spacing:0.13px">이것은<span style="color:#1b1b9a;-webkit-text-stroke:0.1px #1b1b9a;font-weight:bold;letter-spacing:0.7px">MojibakeGimmick</span><span style="color:#1b1b9a;-webkit-text-stroke:0.45px #1b1b9a">配布</span><span style="color:#1b1b9a;-webkit-text-stroke:0.1px #1b1b9a;font-weight:bold;letter-spacing:0.3px">3D</span><span style="color:#1b1b9a;-webkit-text-stroke:0.45px #1b1b9a">モデル</span>이용규약의 허가범위를 간략한 일람입니다.</div><div style="position:absolute;width:725px;text-align:center;font-size:11.45px;line-height:17px;font-weight:normal;color:#111;-webkit-text-stroke:0.45px #111;transform:scaleY(1.1);transform-origin:0 0;white-space:nowrap;left:0;top:84px;letter-spacing:0.13px">한국어판은 참고자료로 작성되었으며, 일본어판이 정식문서이며 최우선으로 적용됩니다.</div><div style="position:absolute;left:68.80px;top:122.30px;width:200.00px;text-align:left;font-size:8.0px;line-height:9px;color:#111;font-weight:normal;letter-spacing:0px;white-space:nowrap;transform:scaleY(1.25);transform-origin:0 0;-webkit-text-stroke:0.12px #111">1. 이용 주체</div><div style="position:absolute;left:62.70px;top:133.85px;width:149.50px;text-align:center;font-size:8.0px;line-height:9px;color:#111;font-weight:normal;letter-spacing:0px;white-space:nowrap;transform:scaleY(1.18);transform-origin:0 0;-webkit-text-stroke:0.12px #111">A 개인이용</div><div style="position:absolute;left:62.70px;top:204.00px;width:149.50px;text-align:center;font-size:8.0px;line-height:9px;color:#282878;font-weight:normal;letter-spacing:0px;white-space:nowrap;transform:scaleY(1.18);transform-origin:0 0;-webkit-text-stroke:0.12px #282878">영리・비영리 목적에 관계없이 이용을</div><div style="position:absolute;left:62.70px;top:213.80px;width:149.50px;text-align:center;font-size:8.0px;line-height:9px;color:#282878;font-weight:normal;letter-spacing:0px;white-space:nowrap;transform:scaleY(1.18);transform-origin:0 0;-webkit-text-stroke:0.12px #282878">허가합니다.</div><div style="position:absolute;left:212.20px;top:133.85px;width:148.60px;text-align:center;font-size:8.0px;line-height:9px;color:#111;font-weight:normal;letter-spacing:0px;white-space:nowrap;transform:scaleY(1.18);transform-origin:0 0;-webkit-text-stroke:0.12px #111">B 법인이용</div><div style="position:absolute;left:212.20px;top:204.00px;width:148.60px;text-align:center;font-size:8.0px;line-height:9px;color:#282878;font-weight:normal;letter-spacing:0px;white-space:nowrap;transform:scaleY(1.18);transform-origin:0 0;-webkit-text-stroke:0.12px #282878">권리자에게 따로 문의를 부탁드립니다.</div><div style="position:absolute;left:68.80px;top:236.30px;width:200.00px;text-align:left;font-size:8.0px;line-height:9px;color:#111;font-weight:normal;letter-spacing:0px;white-space:nowrap;transform:scaleY(1.25);transform-origin:0 0;-webkit-text-stroke:0.12px #111">2. 온라인 서비스에 업로드</div><div style="position:absolute;left:62.70px;top:250.30px;width:99.40px;text-align:center;font-size:8.0px;line-height:9px;color:#111;font-weight:normal;letter-spacing:0px;white-space:nowrap;transform:scaleY(1.18);transform-origin:0 0;-webkit-text-stroke:0.12px #111">C 소셜 커뮤니케이션</div><div style="position:absolute;left:62.70px;top:260.10px;width:99.40px;text-align:center;font-size:8.0px;line-height:9px;color:#111;font-weight:normal;letter-spacing:0px;white-space:nowrap;transform:scaleY(1.18);transform-origin:0 0;-webkit-text-stroke:0.12px #111">플랫폼에 업로드</div><div style="position:absolute;left:62.70px;top:338.70px;width:99.40px;text-align:center;font-size:8.0px;line-height:9px;color:#282878;font-weight:normal;letter-spacing:0px;white-space:nowrap;transform:scaleY(1.18);transform-origin:0 0;-webkit-text-stroke:0.12px #282878">허가합니다.</div><div style="position:absolute;left:162.10px;top:250.30px;width:100.30px;text-align:center;font-size:8.0px;line-height:9px;color:#111;font-weight:normal;letter-spacing:0px;white-space:nowrap;transform:scaleY(1.18);transform-origin:0 0;-webkit-text-stroke:0.12px #111">D 온라인 게임 플랫폼에</div><div style="position:absolute;left:162.10px;top:260.10px;width:100.30px;text-align:center;font-size:8.0px;line-height:9px;color:#111;font-weight:normal;letter-spacing:0px;white-space:nowrap;transform:scaleY(1.18);transform-origin:0 0;-webkit-text-stroke:0.12px #111">업로드</div><div style="position:absolute;left:162.10px;top:338.70px;width:100.30px;text-align:center;font-size:8.0px;line-height:9px;color:#282878;font-weight:normal;letter-spacing:0px;white-space:nowrap;transform:scaleY(1.18);transform-origin:0 0;-webkit-text-stroke:0.12px #282878">허가합니다.</div><div style="position:absolute;left:262.40px;top:250.30px;width:98.40px;text-align:center;font-size:8.0px;line-height:9px;color:#111;font-weight:normal;letter-spacing:0px;white-space:nowrap;transform:scaleY(1.18);transform-origin:0 0;-webkit-text-stroke:0.12px #111">E 온라인</div><div style="position:absolute;left:262.40px;top:260.10px;width:98.40px;text-align:center;font-size:8.0px;line-height:9px;color:#111;font-weight:normal;letter-spacing:0px;white-space:nowrap;transform:scaleY(1.18);transform-origin:0 0;-webkit-text-stroke:0.12px #111">서비스내에서의 제</div><div style="position:absolute;left:262.40px;top:269.90px;width:98.40px;text-align:center;font-size:8.0px;line-height:9px;color:#111;font-weight:normal;letter-spacing:0px;white-space:nowrap;transform:scaleY(1.18);transform-origin:0 0;-webkit-text-stroke:0.12px #111">3자의 이용허락</div><div style="position:absolute;left:262.40px;top:338.70px;width:98.40px;text-align:center;font-size:8.0px;line-height:9px;color:#282878;font-weight:normal;letter-spacing:0px;white-space:nowrap;transform:scaleY(1.18);transform-origin:0 0;-webkit-text-stroke:0.12px #282878">대상을 한정하여</div><div style="position:absolute;left:262.40px;top:348.50px;width:98.40px;text-align:center;font-size:8.0px;line-height:9px;color:#282878;font-weight:normal;letter-spacing:0px;white-space:nowrap;transform:scaleY(1.18);transform-origin:0 0;-webkit-text-stroke:0.12px #282878">공개하도록</div><div style="position:absolute;left:262.40px;top:358.30px;width:98.40px;text-align:center;font-size:8.0px;line-height:9px;color:#282878;font-weight:normal;letter-spacing:0px;white-space:nowrap;transform:scaleY(1.18);transform-origin:0 0;-webkit-text-stroke:0.12px #282878">허가합니다(예를 들면</div><div style="position:absolute;left:262.40px;top:368.10px;width:98.40px;text-align:center;font-size:8.0px;line-height:9px;color:#282878;font-weight:normal;letter-spacing:0px;white-space:nowrap;transform:scaleY(1.18);transform-origin:0 0;-webkit-text-stroke:0.12px #282878">VRChat의</div><div style="position:absolute;left:262.40px;top:377.90px;width:98.40px;text-align:center;font-size:8.0px;line-height:9px;color:#282878;font-weight:normal;letter-spacing:0px;white-space:nowrap;transform:scaleY(1.18);transform-origin:0 0;-webkit-text-stroke:0.12px #282878">Private에서의 공개</div><div style="position:absolute;left:262.40px;top:387.70px;width:98.40px;text-align:center;font-size:8.0px;line-height:9px;color:#282878;font-weight:normal;letter-spacing:0px;white-space:nowrap;transform:scaleY(1.18);transform-origin:0 0;-webkit-text-stroke:0.12px #282878">허가를 포함합니다.)</div><div style="position:absolute;left:68.80px;top:411.80px;width:200.00px;text-align:left;font-size:8.0px;line-height:9px;color:#111;font-weight:normal;letter-spacing:0px;white-space:nowrap;transform:scaleY(1.25);transform-origin:0 0;-webkit-text-stroke:0.12px #111">3. 센시티브한 표현</div><div style="position:absolute;left:62.70px;top:424.50px;width:99.40px;text-align:center;font-size:8.0px;line-height:9px;color:#111;font-weight:normal;letter-spacing:0px;white-space:nowrap;transform:scaleY(1.18);transform-origin:0 0;-webkit-text-stroke:0.12px #111">F 성적 표현</div><div style="position:absolute;left:62.70px;top:494.50px;width:99.40px;text-align:center;font-size:8.0px;line-height:9px;color:#282878;font-weight:normal;letter-spacing:0px;white-space:nowrap;transform:scaleY(1.18);transform-origin:0 0;-webkit-text-stroke:0.12px #282878">허가합니다(단 분류할</div><div style="position:absolute;left:62.70px;top:504.30px;width:99.40px;text-align:center;font-size:8.0px;line-height:9px;color:#282878;font-weight:normal;letter-spacing:0px;white-space:nowrap;transform:scaleY(1.18);transform-origin:0 0;-webkit-text-stroke:0.12px #282878">것)</div><div style="position:absolute;left:162.10px;top:424.50px;width:100.30px;text-align:center;font-size:8.0px;line-height:9px;color:#111;font-weight:normal;letter-spacing:0px;white-space:nowrap;transform:scaleY(1.18);transform-origin:0 0;-webkit-text-stroke:0.12px #111">G 폭력적 표현</div><div style="position:absolute;left:162.10px;top:494.50px;width:100.30px;text-align:center;font-size:8.0px;line-height:9px;color:#282878;font-weight:normal;letter-spacing:0px;white-space:nowrap;transform:scaleY(1.18);transform-origin:0 0;-webkit-text-stroke:0.12px #282878">허가합니다(단 분류할</div><div style="position:absolute;left:162.10px;top:504.30px;width:100.30px;text-align:center;font-size:8.0px;line-height:9px;color:#282878;font-weight:normal;letter-spacing:0px;white-space:nowrap;transform:scaleY(1.18);transform-origin:0 0;-webkit-text-stroke:0.12px #282878">것)</div><div style="position:absolute;left:262.40px;top:424.50px;width:98.40px;text-align:center;font-size:8.0px;line-height:9px;color:#111;font-weight:normal;letter-spacing:0px;white-space:nowrap;transform:scaleY(1.18);transform-origin:0 0;-webkit-text-stroke:0.12px #111">H 정치활동・종교활동</div><div style="position:absolute;left:262.40px;top:494.50px;width:98.40px;text-align:center;font-size:8.0px;line-height:9px;color:#282878;font-weight:normal;letter-spacing:0px;white-space:nowrap;transform:scaleY(1.18);transform-origin:0 0;-webkit-text-stroke:0.12px #282878">허가하지 않습니다.</div><div style="position:absolute;left:68.80px;top:527.40px;width:200.00px;text-align:left;font-size:8.0px;line-height:9px;color:#111;font-weight:normal;letter-spacing:0px;white-space:nowrap;transform:scaleY(1.25);transform-origin:0 0;-webkit-text-stroke:0.12px #111">4. 가공</div><div style="position:absolute;left:62.70px;top:539.60px;width:74.20px;text-align:center;font-size:8.0px;line-height:9px;color:#111;font-weight:normal;letter-spacing:0px;white-space:nowrap;transform:scaleY(1.18);transform-origin:0 0;-webkit-text-stroke:0.12px #111">I 조정</div><div style="position:absolute;left:62.70px;top:628.45px;width:74.20px;text-align:center;font-size:8.0px;line-height:9px;color:#282878;font-weight:normal;letter-spacing:0px;white-space:nowrap;transform:scaleY(1.18);transform-origin:0 0;-webkit-text-stroke:0.12px #282878">허가합니다.</div><div style="position:absolute;left:136.90px;top:539.60px;width:75.30px;text-align:center;font-size:8.0px;line-height:9px;color:#111;font-weight:normal;letter-spacing:0px;white-space:nowrap;transform:scaleY(1.18);transform-origin:0 0;-webkit-text-stroke:0.12px #111">J 개변</div><div style="position:absolute;left:136.90px;top:628.45px;width:75.30px;text-align:center;font-size:8.0px;line-height:9px;color:#282878;font-weight:normal;letter-spacing:0px;white-space:nowrap;transform:scaleY(1.18);transform-origin:0 0;-webkit-text-stroke:0.12px #282878">허가합니다.</div><div style="position:absolute;left:212.20px;top:539.60px;width:74.40px;text-align:center;font-size:8.0px;line-height:9px;color:#111;font-weight:normal;letter-spacing:0px;white-space:nowrap;transform:scaleY(1.18);transform-origin:0 0;-webkit-text-stroke:0.12px #111">K 다른 데이터를</div><div style="position:absolute;left:212.20px;top:549.40px;width:74.40px;text-align:center;font-size:8.0px;line-height:9px;color:#111;font-weight:normal;letter-spacing:0px;white-space:nowrap;transform:scaleY(1.18);transform-origin:0 0;-webkit-text-stroke:0.12px #111">개변하기 위해</div><div style="position:absolute;left:212.20px;top:559.20px;width:74.40px;text-align:center;font-size:8.0px;line-height:9px;color:#111;font-weight:normal;letter-spacing:0px;white-space:nowrap;transform:scaleY(1.18);transform-origin:0 0;-webkit-text-stroke:0.12px #111">이용</div><div style="position:absolute;left:212.20px;top:628.45px;width:74.40px;text-align:center;font-size:8.0px;line-height:9px;color:#282878;font-weight:normal;letter-spacing:0px;white-space:nowrap;transform:scaleY(1.18);transform-origin:0 0;-webkit-text-stroke:0.12px #282878">허가합니다.</div><div style="position:absolute;left:286.60px;top:539.60px;width:74.20px;text-align:center;font-size:8.0px;line-height:9px;color:#111;font-weight:normal;letter-spacing:0px;white-space:nowrap;transform:scaleY(1.18);transform-origin:0 0;-webkit-text-stroke:0.12px #111">L 조정・개변의</div><div style="position:absolute;left:286.60px;top:549.40px;width:74.20px;text-align:center;font-size:8.0px;line-height:9px;color:#111;font-weight:normal;letter-spacing:0px;white-space:nowrap;transform:scaleY(1.18);transform-origin:0 0;-webkit-text-stroke:0.12px #111">외부위탁</div><div style="position:absolute;left:286.60px;top:628.45px;width:74.20px;text-align:center;font-size:8.0px;line-height:9px;color:#282878;font-weight:normal;letter-spacing:0px;white-space:nowrap;transform:scaleY(1.18);transform-origin:0 0;-webkit-text-stroke:0.12px #282878">허가합니다.</div><div style="position:absolute;left:68.80px;top:651.80px;width:200.00px;text-align:left;font-size:8.0px;line-height:9px;color:#111;font-weight:normal;letter-spacing:0px;white-space:nowrap;transform:scaleY(1.25);transform-origin:0 0;-webkit-text-stroke:0.12px #111">5. 재배포 및 배포</div><div style="position:absolute;left:62.70px;top:664.25px;width:149.50px;text-align:center;font-size:8.0px;line-height:9px;color:#111;font-weight:normal;letter-spacing:0px;white-space:nowrap;transform:scaleY(1.18);transform-origin:0 0;-webkit-text-stroke:0.12px #111">M 미개변 상태에서의 재배포</div><div style="position:absolute;left:62.70px;top:733.45px;width:149.50px;text-align:center;font-size:8.0px;line-height:9px;color:#282878;font-weight:normal;letter-spacing:0px;white-space:nowrap;transform:scaleY(1.18);transform-origin:0 0;-webkit-text-stroke:0.12px #282878">허가하지 않습니다.</div><div style="position:absolute;left:212.20px;top:664.25px;width:148.60px;text-align:center;font-size:8.0px;line-height:9px;color:#111;font-weight:normal;letter-spacing:0px;white-space:nowrap;transform:scaleY(1.18);transform-origin:0 0;-webkit-text-stroke:0.12px #111">N 개변한 데이터의 배포</div><div style="position:absolute;left:212.20px;top:733.45px;width:148.60px;text-align:center;font-size:8.0px;line-height:9px;color:#282878;font-weight:normal;letter-spacing:0px;white-space:nowrap;transform:scaleY(1.18);transform-origin:0 0;-webkit-text-stroke:0.12px #282878">허가하지 않습니다.</div><div style="position:absolute;left:383.80px;top:122.10px;width:200.00px;text-align:left;font-size:8.0px;line-height:9px;color:#111;font-weight:normal;letter-spacing:0px;white-space:nowrap;transform:scaleY(1.25);transform-origin:0 0;-webkit-text-stroke:0.12px #111">6. 미디어 프로덕트에 사용</div><div style="position:absolute;left:377.70px;top:134.50px;width:74.40px;text-align:center;font-size:8.0px;line-height:9px;color:#111;font-weight:normal;letter-spacing:0px;white-space:nowrap;transform:scaleY(1.18);transform-origin:0 0;-webkit-text-stroke:0.12px #111">O 영상・방송에</div><div style="position:absolute;left:377.70px;top:144.30px;width:74.40px;text-align:center;font-size:8.0px;line-height:9px;color:#111;font-weight:normal;letter-spacing:0px;white-space:nowrap;transform:scaleY(1.18);transform-origin:0 0;-webkit-text-stroke:0.12px #111">이용</div><div style="position:absolute;left:377.70px;top:233.75px;width:74.40px;text-align:center;font-size:8.0px;line-height:9px;color:#282878;font-weight:normal;letter-spacing:0px;white-space:nowrap;transform:scaleY(1.18);transform-origin:0 0;-webkit-text-stroke:0.12px #282878">허가합니다.</div><div style="position:absolute;left:452.10px;top:134.50px;width:75.00px;text-align:center;font-size:8.0px;line-height:9px;color:#111;font-weight:normal;letter-spacing:0px;white-space:nowrap;transform:scaleY(1.18);transform-origin:0 0;-webkit-text-stroke:0.12px #111">P 출판물 및</div><div style="position:absolute;left:452.10px;top:144.30px;width:75.00px;text-align:center;font-size:8.0px;line-height:9px;color:#111;font-weight:normal;letter-spacing:0px;white-space:nowrap;transform:scaleY(1.18);transform-origin:0 0;-webkit-text-stroke:0.12px #111">전자출판물로의</div><div style="position:absolute;left:452.10px;top:154.10px;width:75.00px;text-align:center;font-size:8.0px;line-height:9px;color:#111;font-weight:normal;letter-spacing:0px;white-space:nowrap;transform:scaleY(1.18);transform-origin:0 0;-webkit-text-stroke:0.12px #111">이용</div><div style="position:absolute;left:452.10px;top:233.75px;width:75.00px;text-align:center;font-size:8.0px;line-height:9px;color:#282878;font-weight:normal;letter-spacing:0px;white-space:nowrap;transform:scaleY(1.18);transform-origin:0 0;-webkit-text-stroke:0.12px #282878">허가합니다.</div><div style="position:absolute;left:527.10px;top:134.50px;width:75.20px;text-align:center;font-size:8.0px;line-height:9px;color:#111;font-weight:normal;letter-spacing:0px;white-space:nowrap;transform:scaleY(1.18);transform-origin:0 0;-webkit-text-stroke:0.12px #111">Q 실물의</div><div style="position:absolute;left:527.10px;top:144.30px;width:75.20px;text-align:center;font-size:8.0px;line-height:9px;color:#111;font-weight:normal;letter-spacing:0px;white-space:nowrap;transform:scaleY(1.18);transform-origin:0 0;-webkit-text-stroke:0.12px #111">입체조형(굿즈)으</div><div style="position:absolute;left:527.10px;top:154.10px;width:75.20px;text-align:center;font-size:8.0px;line-height:9px;color:#111;font-weight:normal;letter-spacing:0px;white-space:nowrap;transform:scaleY(1.18);transform-origin:0 0;-webkit-text-stroke:0.12px #111">로 이용</div><div style="position:absolute;left:527.10px;top:233.75px;width:75.20px;text-align:center;font-size:8.0px;line-height:9px;color:#282878;font-weight:normal;letter-spacing:0px;white-space:nowrap;transform:scaleY(1.18);transform-origin:0 0;-webkit-text-stroke:0.12px #282878">허가합니다.</div><div style="position:absolute;left:602.30px;top:134.50px;width:74.90px;text-align:center;font-size:8.0px;line-height:9px;color:#111;font-weight:normal;letter-spacing:0px;white-space:nowrap;transform:scaleY(1.18);transform-origin:0 0;-webkit-text-stroke:0.12px #111">R 제품개발</div><div style="position:absolute;left:602.30px;top:144.30px;width:74.90px;text-align:center;font-size:8.0px;line-height:9px;color:#111;font-weight:normal;letter-spacing:0px;white-space:nowrap;transform:scaleY(1.18);transform-origin:0 0;-webkit-text-stroke:0.12px #111">등에서</div><div style="position:absolute;left:602.30px;top:154.10px;width:74.90px;text-align:center;font-size:8.0px;line-height:9px;color:#111;font-weight:normal;letter-spacing:0px;white-space:nowrap;transform:scaleY(1.18);transform-origin:0 0;-webkit-text-stroke:0.12px #111">소프트웨어에</div><div style="position:absolute;left:602.30px;top:163.90px;width:74.90px;text-align:center;font-size:8.0px;line-height:9px;color:#111;font-weight:normal;letter-spacing:0px;white-space:nowrap;transform:scaleY(1.18);transform-origin:0 0;-webkit-text-stroke:0.12px #111">도입</div><div style="position:absolute;left:602.30px;top:233.75px;width:74.90px;text-align:center;font-size:8.0px;line-height:9px;color:#282878;font-weight:normal;letter-spacing:0px;white-space:nowrap;transform:scaleY(1.18);transform-origin:0 0;-webkit-text-stroke:0.12px #282878">허가합니다.</div><div style="position:absolute;left:383.80px;top:256.80px;width:200.00px;text-align:left;font-size:8.0px;line-height:9px;color:#111;font-weight:normal;letter-spacing:0px;white-space:nowrap;transform:scaleY(1.25);transform-origin:0 0;-webkit-text-stroke:0.12px #111">7. 2차 창작</div><div style="position:absolute;left:377.70px;top:269.50px;width:99.50px;text-align:center;font-size:8.0px;line-height:9px;color:#111;font-weight:normal;letter-spacing:0px;white-space:nowrap;transform:scaleY(1.18);transform-origin:0 0;-webkit-text-stroke:0.12px #111">S 메쉬나 웨이트를</div><div style="position:absolute;left:377.70px;top:279.30px;width:99.50px;text-align:center;font-size:8.0px;line-height:9px;color:#111;font-weight:normal;letter-spacing:0px;white-space:nowrap;transform:scaleY(1.18);transform-origin:0 0;-webkit-text-stroke:0.12px #111">가져와서 의상 데이터를</div><div style="position:absolute;left:377.70px;top:289.10px;width:99.50px;text-align:center;font-size:8.0px;line-height:9px;color:#111;font-weight:normal;letter-spacing:0px;white-space:nowrap;transform:scaleY(1.18);transform-origin:0 0;-webkit-text-stroke:0.12px #111">제작</div><div style="position:absolute;left:377.70px;top:378.80px;width:99.50px;text-align:center;font-size:8.0px;line-height:9px;color:#282878;font-weight:normal;letter-spacing:0px;white-space:nowrap;transform:scaleY(1.18);transform-origin:0 0;-webkit-text-stroke:0.12px #282878">사적, 본인만 이용에 한해</div><div style="position:absolute;left:377.70px;top:388.60px;width:99.50px;text-align:center;font-size:8.0px;line-height:9px;color:#282878;font-weight:normal;letter-spacing:0px;white-space:nowrap;transform:scaleY(1.18);transform-origin:0 0;-webkit-text-stroke:0.12px #282878">허가합니다.</div><div style="position:absolute;left:477.20px;top:269.50px;width:100.00px;text-align:center;font-size:8.0px;line-height:9px;color:#111;font-weight:normal;letter-spacing:0px;white-space:nowrap;transform:scaleY(1.18);transform-origin:0 0;-webkit-text-stroke:0.12px #111">T 메쉬나 웨이트를</div><div style="position:absolute;left:477.20px;top:279.30px;width:100.00px;text-align:center;font-size:8.0px;line-height:9px;color:#111;font-weight:normal;letter-spacing:0px;white-space:nowrap;transform:scaleY(1.18);transform-origin:0 0;-webkit-text-stroke:0.12px #111">가져오지 않고 데이터</div><div style="position:absolute;left:477.20px;top:289.10px;width:100.00px;text-align:center;font-size:8.0px;line-height:9px;color:#111;font-weight:normal;letter-spacing:0px;white-space:nowrap;transform:scaleY(1.18);transform-origin:0 0;-webkit-text-stroke:0.12px #111">규격에 준수한 새로운</div><div style="position:absolute;left:477.20px;top:298.90px;width:100.00px;text-align:center;font-size:8.0px;line-height:9px;color:#111;font-weight:normal;letter-spacing:0px;white-space:nowrap;transform:scaleY(1.18);transform-origin:0 0;-webkit-text-stroke:0.12px #111">의상 데이터 및 텍스처</div><div style="position:absolute;left:477.20px;top:308.70px;width:100.00px;text-align:center;font-size:8.0px;line-height:9px;color:#111;font-weight:normal;letter-spacing:0px;white-space:nowrap;transform:scaleY(1.18);transform-origin:0 0;-webkit-text-stroke:0.12px #111">데이터 제작</div><div style="position:absolute;left:477.20px;top:378.80px;width:100.00px;text-align:center;font-size:8.0px;line-height:9px;color:#282878;font-weight:normal;letter-spacing:0px;white-space:nowrap;transform:scaleY(1.18);transform-origin:0 0;-webkit-text-stroke:0.12px #282878">사적, 본인만 이용에 한해</div><div style="position:absolute;left:477.20px;top:388.60px;width:100.00px;text-align:center;font-size:8.0px;line-height:9px;color:#282878;font-weight:normal;letter-spacing:0px;white-space:nowrap;transform:scaleY(1.18);transform-origin:0 0;-webkit-text-stroke:0.12px #282878">허가합니다.</div><div style="position:absolute;left:577.20px;top:269.50px;width:100.00px;text-align:center;font-size:8.0px;line-height:9px;color:#111;font-weight:normal;letter-spacing:0px;white-space:nowrap;transform:scaleY(1.18);transform-origin:0 0;-webkit-text-stroke:0.12px #111">U 데이터를 모티브로 한</div><div style="position:absolute;left:577.20px;top:279.30px;width:100.00px;text-align:center;font-size:8.0px;line-height:9px;color:#111;font-weight:normal;letter-spacing:0px;white-space:nowrap;transform:scaleY(1.18);transform-origin:0 0;-webkit-text-stroke:0.12px #111">2차 저작물(이른바 2차</div><div style="position:absolute;left:577.20px;top:289.10px;width:100.00px;text-align:center;font-size:8.0px;line-height:9px;color:#111;font-weight:normal;letter-spacing:0px;white-space:nowrap;transform:scaleY(1.18);transform-origin:0 0;-webkit-text-stroke:0.12px #111">창작)의 제작</div><div style="position:absolute;left:577.20px;top:378.80px;width:100.00px;text-align:center;font-size:8.0px;line-height:9px;color:#282878;font-weight:normal;letter-spacing:0px;white-space:nowrap;transform:scaleY(1.18);transform-origin:0 0;-webkit-text-stroke:0.12px #282878">권리자에게 따로 문의를</div><div style="position:absolute;left:577.20px;top:388.60px;width:100.00px;text-align:center;font-size:8.0px;line-height:9px;color:#282878;font-weight:normal;letter-spacing:0px;white-space:nowrap;transform:scaleY(1.18);transform-origin:0 0;-webkit-text-stroke:0.12px #282878">부탁드립니다.</div><div style="position:absolute;left:383.80px;top:411.80px;width:200.00px;text-align:left;font-size:8.0px;line-height:9px;color:#111;font-weight:normal;letter-spacing:0px;white-space:nowrap;transform:scaleY(1.25);transform-origin:0 0;-webkit-text-stroke:0.12px #111">8. 그 외</div><div style="position:absolute;left:377.70px;top:424.55px;width:149.50px;text-align:center;font-size:8.0px;line-height:9px;color:#111;font-weight:normal;letter-spacing:0px;white-space:nowrap;transform:scaleY(1.18);transform-origin:0 0;-webkit-text-stroke:0.12px #111">V 크레딧의 표기</div><div style="position:absolute;left:377.70px;top:493.95px;width:149.50px;text-align:center;font-size:8.0px;line-height:9px;color:#282878;font-weight:normal;letter-spacing:0px;white-space:nowrap;transform:scaleY(1.18);transform-origin:0 0;-webkit-text-stroke:0.12px #282878">필요는 없지만 있으면 좋습니다.</div><div style="position:absolute;left:527.20px;top:424.55px;width:150.00px;text-align:center;font-size:8.0px;line-height:9px;color:#111;font-weight:normal;letter-spacing:0px;white-space:nowrap;transform:scaleY(1.18);transform-origin:0 0;-webkit-text-stroke:0.12px #111">W 권리의무의 양도 등</div><div style="position:absolute;left:527.20px;top:493.95px;width:150.00px;text-align:center;font-size:8.0px;line-height:9px;color:#282878;font-weight:normal;letter-spacing:0px;white-space:nowrap;transform:scaleY(1.18);transform-origin:0 0;-webkit-text-stroke:0.12px #282878">허가하지 않습니다.</div><div style="position:absolute;left:383.80px;top:516.80px;width:200.00px;text-align:left;font-size:8.0px;line-height:9px;color:#111;font-weight:normal;letter-spacing:0px;white-space:nowrap;transform:scaleY(1.25);transform-origin:0 0;-webkit-text-stroke:0.12px #111">9. 특기 사항</div><div style="position:absolute;left:377.70px;top:529.30px;width:299.50px;text-align:center;font-size:8.0px;line-height:9px;color:#111;font-weight:normal;letter-spacing:0px;white-space:nowrap;transform:scaleY(1.18);transform-origin:0 0;-webkit-text-stroke:0.12px #111">X 특기 사항</div><div style="position:absolute;left:377.70px;top:598.40px;width:299.50px;text-align:center;font-size:8.0px;line-height:9px;color:#282878;font-weight:normal;letter-spacing:0px;white-space:nowrap;transform:scaleY(1.18);transform-origin:0 0;-webkit-text-stroke:0.12px #282878">なし</div>
</body></html>
